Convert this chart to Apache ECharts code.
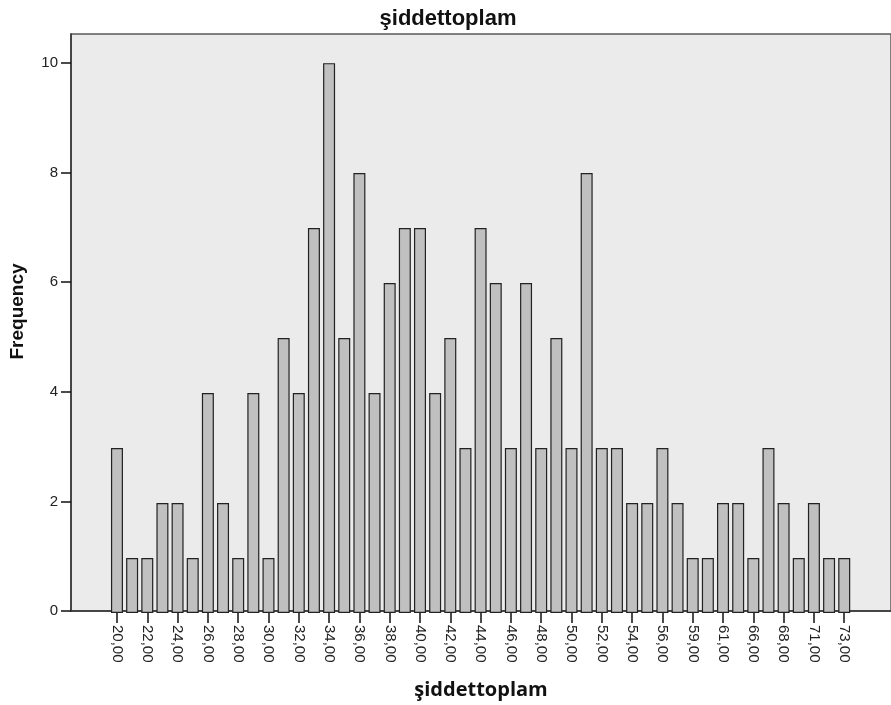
<!DOCTYPE html>
<html>
<head>
<meta charset="utf-8">
<script src="https://cdn.jsdelivr.net/npm/echarts@6/dist/echarts.min.js"></script>
<style>
html,body{margin:0;padding:0;background:#fff;}
#c{width:891px;height:705px;}
</style>
</head>
<body>
<div id="c"></div>
<script>
// data
const scoreValues = [20,21,22,23,24,25,26,27,28,29,30,31,32,33,34,35,36,37,38,39,40,41,42,43,44,45,46,47,48,49,50,51,52,53,54,55,56,57,59,60,61,62,66,67,68,69,71,72,73];
const frequencies = [3,1,1,2,2,1,4,2,1,4,1,5,4,7,10,5,8,4,6,7,7,4,5,3,7,6,3,6,3,5,3,8,3,3,2,2,3,2,1,1,2,2,1,3,2,1,2,1,1];
const yTicks = [0,2,4,6,8,10];
const chartTitle = 'şiddettoplam';
const xName = 'şiddettoplam';
const yName = 'Frequency';

const categories = scoreValues.map(v => v.toFixed(2).replace('.', ','));
const yMax = 10.53;

const chart = echarts.init(document.getElementById('c'), null, {renderer: 'canvas'});
chart.setOption({
  animation: false,
  backgroundColor: '#ffffff',
  title: {
    text: chartTitle,
    left: 443,
    textAlign: 'center',
    top: 3,
    textStyle: {fontFamily: 'Liberation Sans', fontWeight: 'bold', fontSize: 22, color: '#111'}
  },
  grid: [
    {left: 69, top: 34, right: -1, bottom: 92, show: true, backgroundColor: '#EBEBEB', borderColor: '#5a5a5a', borderWidth: 1.5},
    {left: 109.4, top: 34, right: 39.2, bottom: 92}
  ],
  xAxis: [
    {
      gridIndex: 0, type: 'value', min: 0, max: 1,
      axisLine: {show: true, lineStyle: {color: '#333', width: 1.5}},
      axisTick: {show: false}, axisLabel: {show: false}, splitLine: {show: false},
      name: xName, nameLocation: 'middle', nameGap: 69,
      nameTextStyle: {fontFamily: 'Open Sans', fontWeight: 'bold', fontSize: 20, color: '#111'}
    },
    {
      gridIndex: 1, type: 'category', data: categories,
      axisLine: {show: false},
      axisTick: {show: true, alignWithLabel: true, interval: 1, length: 10, lineStyle: {color: '#111', width: 1.5}},
      axisLabel: {interval: 1, rotate: -90, margin: 12, fontFamily: 'Liberation Sans', fontSize: 15, color: '#222'},
      splitLine: {show: false}
    }
  ],
  yAxis: [
    {
      gridIndex: 0, type: 'value', min: 0, max: yMax,
      axisLine: {show: true, lineStyle: {color: '#333', width: 1.5}},
      axisTick: {show: true, length: 10, customValues: yTicks, lineStyle: {color: '#111', width: 1.5}},
      axisLabel: {customValues: yTicks, margin: 13, fontFamily: 'Liberation Sans', fontSize: 15, color: '#222'},
      splitLine: {show: false},
      name: yName, nameLocation: 'middle', nameGap: 44,
      nameTextStyle: {fontFamily: 'Liberation Sans', fontWeight: 'bold', fontSize: 19, color: '#111', padding: [0, 0, 0, 22]}
    },
    {
      gridIndex: 1, type: 'value', min: 0, max: yMax, show: false
    }
  ],
  series: [{
    type: 'bar',
    xAxisIndex: 1, yAxisIndex: 1,
    data: frequencies,
    barWidth: 12,
    itemStyle: {color: '#C0C0C0', borderColor: '#222', borderWidth: 1.2}
  }]
});
</script>
</body>
</html>
